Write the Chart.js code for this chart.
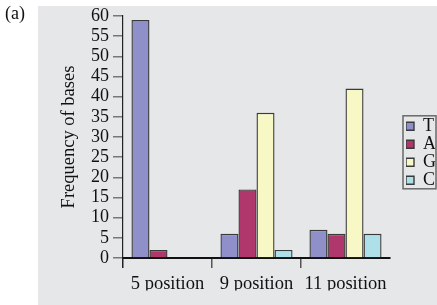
<!DOCTYPE html>
<html>
<head>
<meta charset="utf-8">
<script src="https://cdn.jsdelivr.net/npm/chart.js@4/dist/chart.umd.min.js"></script>
<style>
  html, body { margin: 0; padding: 0; background: #ffffff; }
  #wrap { position: relative; width: 437px; height: 305px; overflow: hidden; }
  #c { position: absolute; left: 0; top: 0; }
  #panel { position: absolute; left: 5px; top: 3px; font: 18px 'Liberation Serif', 'Times New Roman', Times, serif; color: #111; }
</style>
</head>
<body>
<div id="wrap">
  <canvas id="c" width="437" height="305"></canvas>
  <div id="panel">(a)</div>
</div>
<script>
// ---- data ----
const categories = ['5 position', '9 position', '11 position'];
const seriesNames = ['T', 'A', 'G', 'C'];
const valuesT = [59, 6, 7];
const valuesA = [2, 17, 6];
const valuesG = [0, 36, 42];
const valuesC = [0, 2, 6];
const yMin = 0, yMax = 60, yStep = 5;
const yTitle = 'Frequency of bases';

// ---- styles ----
const seriesColors = ['#8f8fc9', '#b0376b', '#f8f8c6', '#aee0ea'];
const serif = "'Liberation Serif', 'Times New Roman', Times, serif";
const seriesValues = [valuesT, valuesA, valuesG, valuesC];

const datasets = seriesNames.map((name, i) => ({
  label: name,
  data: seriesValues[i],
  backgroundColor: seriesColors[i],
  borderColor: '#3a3a3a',
  borderWidth: 1.4,
  categoryPercentage: 0.81,
  barPercentage: 1.0
}));

const LEGEND_W = 47;
const LEGEND_SHIFT = 16;

const layoutPlugin = {
  id: 'layoutPlugin',
  beforeLayout(chart) {
    const lg = chart.legend;
    if (lg && !lg._patched) {
      const orig = lg.update.bind(lg);
      lg.update = function (mw, mh, m) { orig(mw, mh, m); this.width = LEGEND_W; };
      lg._patched = true;
    }
  },
  afterLayout(chart) {
    const lg = chart.legend;
    if (lg) { lg.left += LEGEND_SHIFT; lg.right += LEGEND_SHIFT; }
  },
  beforeDraw(chart) {
    const ctx = chart.ctx;
    ctx.save();
    ctx.fillStyle = '#e6e7e9';
    ctx.fillRect(38, 6, chart.width - 38, chart.height - 6);
    ctx.restore();
  },
  afterDraw(chart) {
    const lg = chart.legend;
    if (!lg) return;
    const pad = lg.options.labels.padding;
    const fs = lg.options.labels.font.size;
    const colH = seriesNames.length * (fs + pad);
    const y0 = (lg.top + pad + lg.bottom - colH) / 2;
    const x0 = lg.left + pad - 3;
    const ctx = chart.ctx;
    ctx.save();
    ctx.strokeStyle = '#6a6a6a';
    ctx.lineWidth = 1.5;
    ctx.strokeRect(x0, y0 - 1.5, chart.width - x0 - 1, colH + 1);
    ctx.restore();
  }
};

new Chart(document.getElementById('c'), {
  type: 'bar',
  data: { labels: categories, datasets: datasets },
  plugins: [layoutPlugin],
  options: {
    responsive: false,
    animation: false,
    devicePixelRatio: 1,
    layout: { padding: { top: 16, left: 50, right: 0, bottom: 14.4 } },
    plugins: {
      tooltip: { enabled: false },
      legend: {
        position: 'right',
        align: 'center',
        labels: {
          boxWidth: 8,
          boxHeight: 8,
          padding: 0,
          color: '#111',
          font: { family: serif, size: 18 }
        }
      }
    },
    scales: {
      x: {
        afterFit(scale) { scale.height = 32.6; },
        grid: {
          offset: true,
          drawOnChartArea: false,
          drawTicks: true,
          tickLength: 10,
          lineWidth: 1.5,
          color: (ctx) => ctx.type !== 'tick' ? 'rgba(0,0,0,0)' : (ctx.index === 0 ? '#222222' : '#555555')
        },
        border: { display: true, color: '#111111', width: 2 },
        ticks: { color: '#111', padding: 5, font: { family: serif, size: 18.5 } }
      },
      y: {
        min: yMin,
        max: yMax,
        afterFit(scale) { scale.width = 73; },
        title: {
          display: true,
          text: yTitle,
          color: '#111',
          padding: { top: 8, bottom: 0 },
          font: { family: serif, size: 18.5 }
        },
        grid: {
          drawOnChartArea: false,
          drawTicks: true,
          tickLength: 10,
          lineWidth: 1.5,
          color: '#777777'
        },
        border: { display: true, color: '#222222', width: 1.2 },
        ticks: { stepSize: yStep, autoSkip: false, color: '#111', padding: 4, font: { family: serif, size: 18 } }
      }
    }
  }
});
</script>
</body>
</html>
